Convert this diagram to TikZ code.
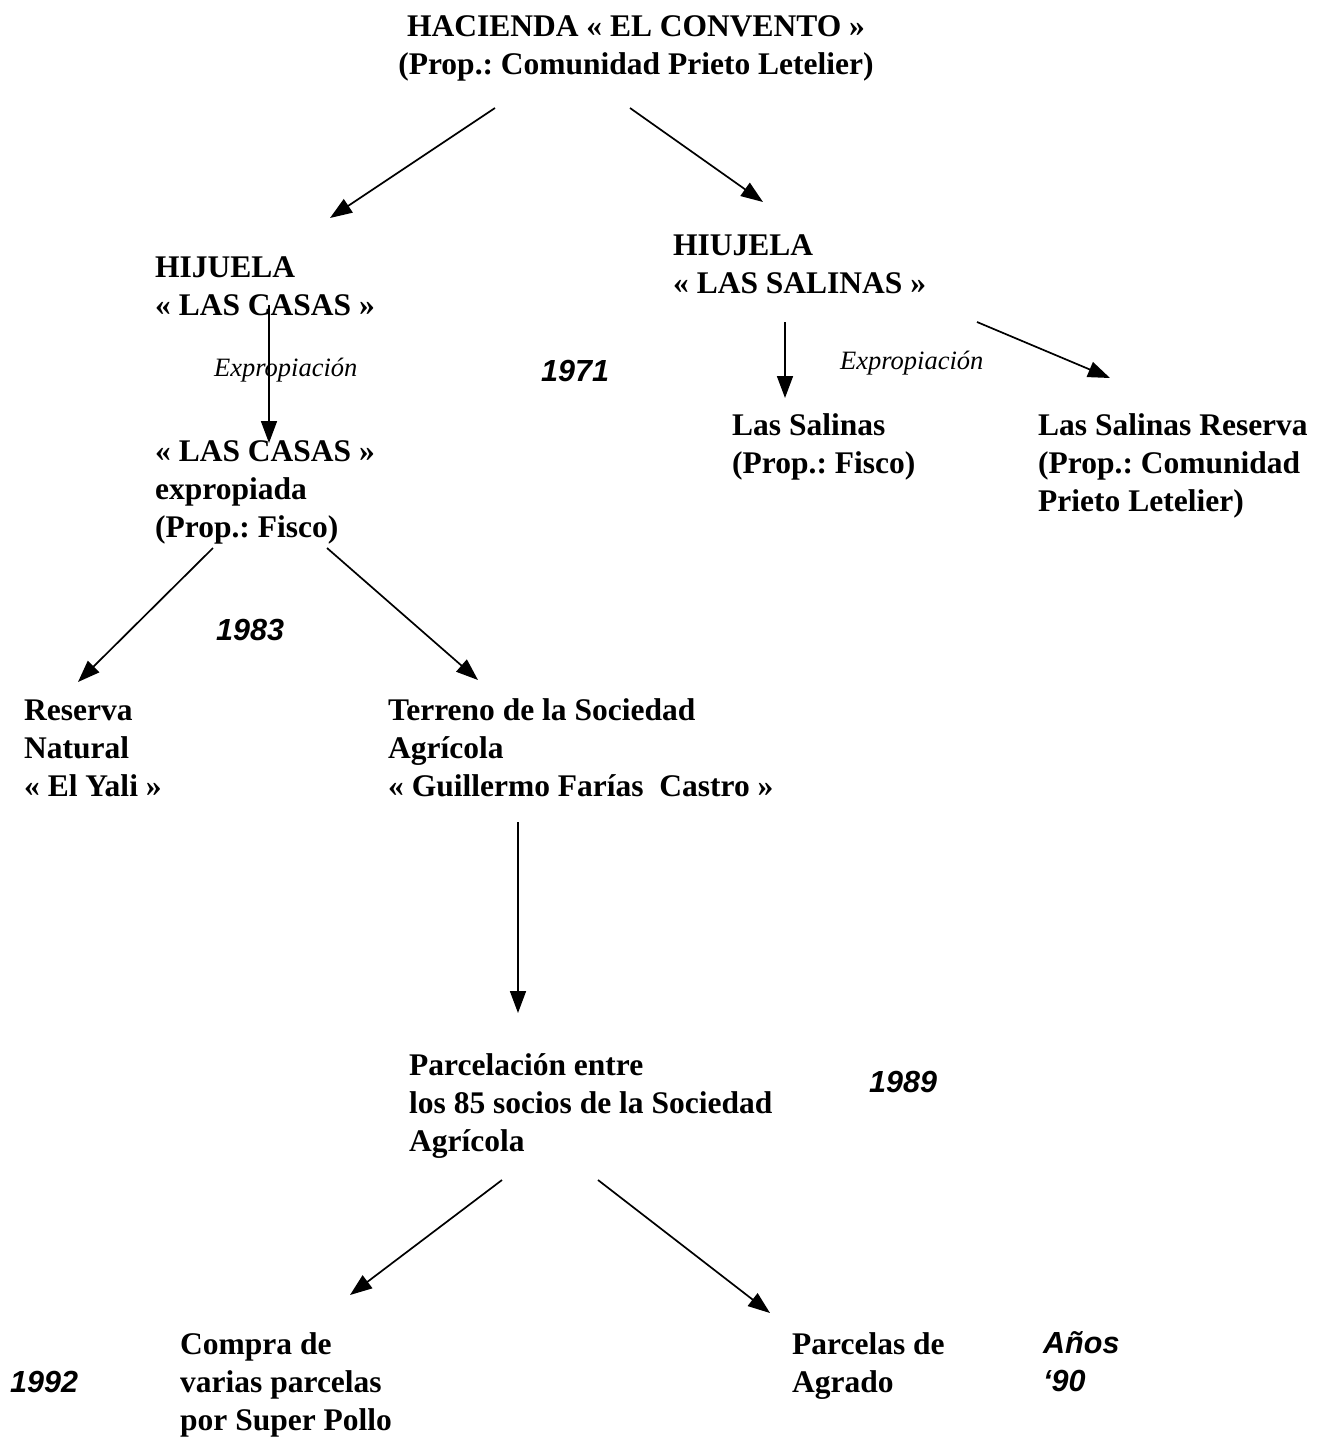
\documentclass[tikz,border=0pt]{standalone}
\usepackage{fontspec}
\setmainfont{Liberation Serif}
\newfontfamily\yearfont{Liberation Sans}
\usepackage{tikz}
\usetikzlibrary{arrows.meta}
\frenchspacing

\tikzset{
  txt/.style={anchor=north west, inner sep=0pt, align=left,
    font=\fontsize{31.5}{38}\selectfont\bfseries},
  yr/.style={anchor=north west, inner sep=0pt, align=left,
    font=\fontsize{30.5}{38}\selectfont\yearfont\bfseries\itshape},
  expr/.style={anchor=north west, inner sep=0pt,
    font=\fontsize{26.5}{30}\selectfont\itshape},
  arr/.style={line width=1.7pt, -{Triangle[length=22pt,width=16pt]}}
}

\begin{document}
\begin{tikzpicture}[x=1pt, y=-1pt]
\useasboundingbox (0,0) rectangle (1333,1437);

% Texts
\node[txt, anchor=north, align=center] (hac) at (636,15) {HACIENDA « EL CONVENTO »\\(Prop.: Comunidad Prieto Letelier)};
\node[txt] (hijA) at (155,257) {HIJUELA\\« LAS CASAS »};
\node[txt] (hijS) at (673,235) {HIUJELA\\« LAS SALINAS »};
\node[expr] (exprA) at (214,358) {Expropiación};
\node[yr] (y1971) at (541,360) {1971};
\node[expr] (exprS) at (840,351) {Expropiación};
\node[txt] (salF) at (732,413) {Las Salinas\\(Prop.: Fisco)};
\node[txt] (salR) at (1038,413) {Las Salinas Reserva\\(Prop.: Comunidad\\Prieto Letelier)};
\node[txt] (casE) at (155,440) {« LAS CASAS »\\expropiada\\(Prop.: Fisco)};
\node[yr] (y1983) at (216,619) {1983};
\node[txt] (yali) at (24,700) {Reserva\\Natural\\« El Yali »};
\node[txt] (terr) at (388,698) {Terreno de la Sociedad\\Agrícola\\« Guillermo Farías~ Castro »};
\node[txt] (parc) at (409,1053) {Parcelación entre\\los 85 socios de la Sociedad\\Agrícola};
\node[yr] (y1989) at (869,1071) {1989};
\node[txt] (compra) at (180,1332) {Compra de\\varias parcelas\\por Super Pollo};
\node[yr] (y1992) at (10,1371) {1992};
\node[txt] (agrado) at (792,1332) {Parcelas de\\Agrado};
\node[yr] (anos) at (1043,1331) {Años\\‘90};

% Arrow ends
\coordinate (hacL) at (495,108);
\coordinate (hacR) at (630,108);
\coordinate (toA) at (330,218);
\coordinate (toS) at (763,202);
\coordinate (hijAb) at (269,305);
\coordinate (casEt) at (269,443);
\coordinate (hijSb) at (785,322);
\coordinate (salFt) at (785,398);
\coordinate (hijSr) at (977,322);
\coordinate (salRt) at (1110,378);
\coordinate (casEl) at (213,548);
\coordinate (casEr) at (327,548);
\coordinate (yaliT) at (78,682);
\coordinate (terrT) at (478,680);
\coordinate (terrB) at (518,822);
\coordinate (parcT) at (518,1013);
\coordinate (parcL) at (502,1180);
\coordinate (parcR) at (598,1180);
\coordinate (compraT) at (350,1295);
\coordinate (agradoT) at (770,1313);

% Arrows
\draw[arr] (hacL) -- (toA);
\draw[arr] (hacR) -- (toS);
\draw[arr] (hijAb) -- (casEt);
\draw[arr] (hijSb) -- (salFt);
\draw[arr] (hijSr) -- (salRt);
\draw[arr] (casEl) -- (yaliT);
\draw[arr] (casEr) -- (terrT);
\draw[arr] (terrB) -- (parcT);
\draw[arr] (parcL) -- (compraT);
\draw[arr] (parcR) -- (agradoT);
\end{tikzpicture}
\end{document}
